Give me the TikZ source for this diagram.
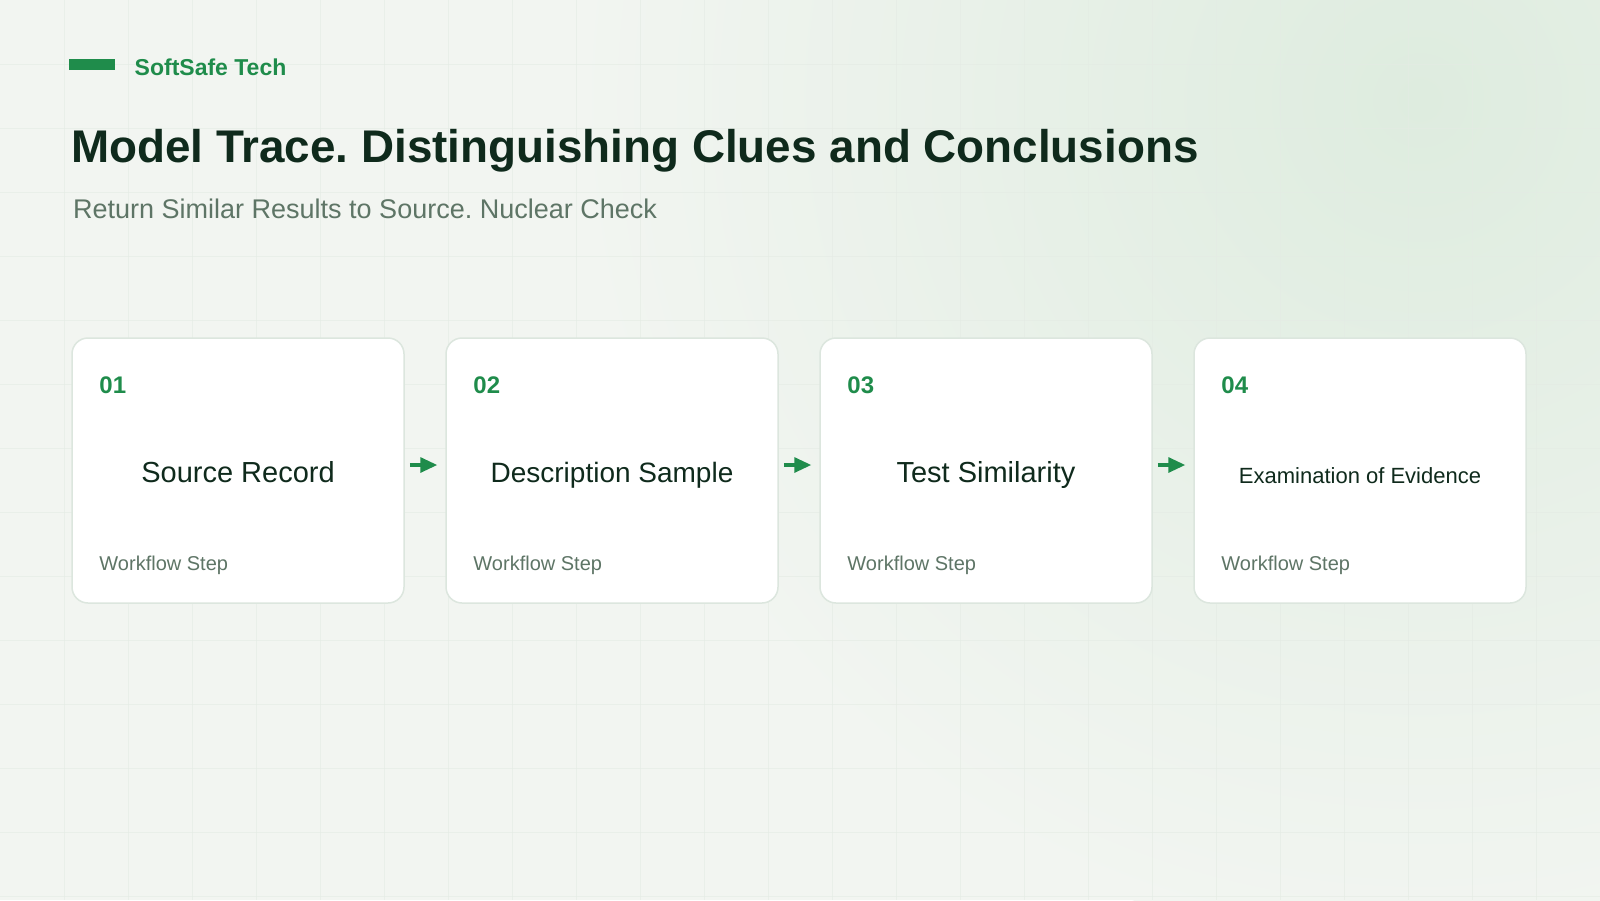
\documentclass[tikz,border=0pt]{standalone}
\usepackage{fontspec}
\setmainfont{Liberation Sans}
\frenchspacing
\usetikzlibrary{positioning,arrows.meta}
\definecolor{brandgreen}{HTML}{1F8C4B}
\definecolor{inkdark}{HTML}{0F2A1C}
\definecolor{mutedgrey}{HTML}{5E7566}
\definecolor{pagebg}{HTML}{F2F5F1}
\definecolor{glowgreen}{HTML}{DEECDF}
\definecolor{gridline}{HTML}{E4EBE4}
\definecolor{cardedge}{HTML}{DCE6DE}
\tikzset{
    grid-line/.style = {draw=gridline, line width=1pt, opacity=0.6},
    brand-bar/.style = {fill=brandgreen, rectangle, minimum width=46pt, minimum height=11pt, inner sep=0pt},
    brand-name/.style = {text=brandgreen, font=\fontsize{23}{27}\selectfont\bfseries, inner sep=0pt, anchor=base west},
    page-title/.style = {text=inkdark, font=\fontsize{45.8}{54}\selectfont\bfseries, inner sep=0pt, anchor=base west},
    page-subtitle/.style = {text=mutedgrey, font=\fontsize{27}{32}\selectfont, inner sep=0pt, anchor=base west},
    step-card/.style = {draw=cardedge, fill=white, line width=1.5pt, rectangle, rounded corners=16pt, minimum width=332pt, minimum height=265pt, inner sep=0pt},
    step-num/.style = {text=brandgreen, font=\fontsize{24}{28}\selectfont\bfseries, inner sep=0pt, anchor=base west},
    step-title/.style = {text=inkdark, font=\fontsize{29}{34}\selectfont, inner sep=0pt, anchor=base},
    step-sub/.style = {text=mutedgrey, font=\fontsize{20}{24}\selectfont, inner sep=0pt, anchor=base west},
    flow-arrow/.style = {draw=brandgreen, line width=3.2pt, -{Triangle[length=17pt,width=15pt]}},
}

\begin{document}
\begin{tikzpicture}[x=1pt, y=-1pt]
\useasboundingbox (0,0) rectangle (1600,900);
\begin{scope}
\clip (0,0) rectangle (1600,900);
\fill[pagebg] (0,0) rectangle (1600,900);
\shade[inner color=glowgreen, outer color=pagebg] (1420,100) circle (850);
\foreach \gx in {64,128,...,1600} \draw[grid-line] (\gx,0) -- (\gx,900);
\foreach \gy in {64,128,...,896} \draw[grid-line] (0,\gy) -- (1600,\gy);
\end{scope}

% header
\node[brand-bar] (bar) at (92,64.5) {};
\node[brand-name] (brand) at (134.5,75.8) {SoftSafe Tech};
\node[page-title] (title) at (71,162) {Model Trace. Distinguishing Clues and Conclusions};
\node[page-subtitle] (subtitle) at (73,218) {Return Similar Results to Source. Nuclear Check};

% workflow cards
\node[step-card] (card1) at (238,470.5) {};
\node[step-card, right=40.5pt of card1] (card2) {};
\node[step-card, right=40.5pt of card2] (card3) {};
\node[step-card, right=40.5pt of card3] (card4) {};

\node[step-num] (num1) at ([xshift=28pt,yshift=-56pt]card1.north west) {01};
\node[step-num] (num2) at ([xshift=28pt,yshift=-56pt]card2.north west) {02};
\node[step-num] (num3) at ([xshift=28pt,yshift=-56pt]card3.north west) {03};
\node[step-num] (num4) at ([xshift=28pt,yshift=-56pt]card4.north west) {04};

\node[step-title] (name1) at ([yshift=-12pt]card1.center) {Source Record};
\node[step-title, font=\fontsize{28}{33}\selectfont] (name2) at ([yshift=-12pt]card2.center) {Description Sample};
\node[step-title] (name3) at ([yshift=-12pt]card3.center) {Test Similarity};
\node[step-title, font=\fontsize{22}{26}\selectfont] (name4) at ([yshift=-12.5pt]card4.center) {Examination of Evidence};

\node[step-sub] (sub1) at ([xshift=28pt,yshift=33pt]card1.south west) {Workflow Step};
\node[step-sub] (sub2) at ([xshift=28pt,yshift=33pt]card2.south west) {Workflow Step};
\node[step-sub] (sub3) at ([xshift=28pt,yshift=33pt]card3.south west) {Workflow Step};
\node[step-sub] (sub4) at ([xshift=28pt,yshift=33pt]card4.south west) {Workflow Step};

\draw[flow-arrow] ([xshift=5pt,yshift=5.5pt]card1.east) -- ([xshift=-8pt,yshift=5.5pt]card2.west);
\draw[flow-arrow] ([xshift=5pt,yshift=5.5pt]card2.east) -- ([xshift=-8pt,yshift=5.5pt]card3.west);
\draw[flow-arrow] ([xshift=5pt,yshift=5.5pt]card3.east) -- ([xshift=-8pt,yshift=5.5pt]card4.west);
\end{tikzpicture}
\end{document}
